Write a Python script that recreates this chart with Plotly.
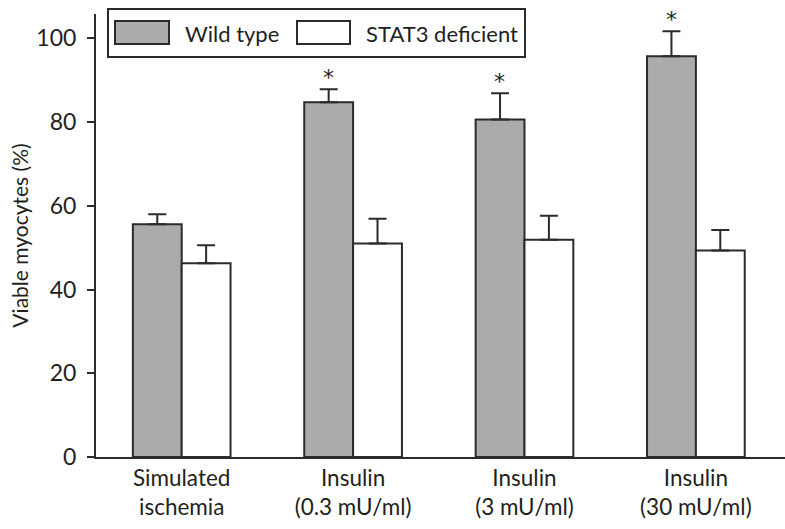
import plotly.graph_objects as go

# ---- data ----
categories = ["Simulated<br>ischemia", "Insulin<br>(0.3 mU/ml)", "Insulin<br>(3 mU/ml)", "Insulin<br>(30 mU/ml)"]
series_names = ["Wild type", "STAT3 deficient"]
wild_type = [55.6, 84.7, 80.6, 95.7]
wild_type_err = [2.4, 3.1, 6.3, 6.0]
stat3 = [46.3, 51.0, 51.9, 49.3]
stat3_err = [4.3, 5.9, 5.7, 4.9]
significant = [False, True, True, True]
y_ticks = [0, 20, 40, 60, 80, 100]

FONT = "Lato"
INK = "#231f20"
GRAY = "#ababab"
EDGE = "#2b2b2b"

W, H = 785, 529
ML, MR, MT, MB = 96, 0, 14, 72

fig = go.Figure()
fig.add_trace(go.Bar(
    name=series_names[0], x=categories, y=wild_type,
    marker=dict(color=GRAY, line=dict(color=EDGE, width=2)),
    error_y=dict(type="data", array=wild_type_err, arrayminus=[0] * 4, symmetric=False,
                 color=EDGE, thickness=2, width=9),
    showlegend=False,
))
fig.add_trace(go.Bar(
    name=series_names[1], x=categories, y=stat3,
    marker=dict(color="white", line=dict(color=EDGE, width=2)),
    error_y=dict(type="data", array=stat3_err, arrayminus=[0] * 4, symmetric=False,
                 color=EDGE, thickness=2, width=9),
    showlegend=False,
))

# significance asterisks above wild-type error bars
for cat, v, e, s in zip(categories, wild_type, wild_type_err, significant):
    if s:
        fig.add_annotation(x=cat, y=v + e, xref="x", yref="y", text="*", showarrow=False,
                           xshift=-24.5, yshift=12, yanchor="middle",
                           font=dict(family="DejaVu Sans", size=22, color=INK))

# custom legend (paper coordinates computed from pixel layout)
pw, ph = W - ML - MR, H - MT - MB
def px(x):
    return (x - ML) / pw
def py(y):
    return (H - MB - y) / ph

shapes = [
    dict(type="rect", xref="paper", yref="paper", x0=px(108), x1=px(525), y0=py(57), y1=py(9),
         line=dict(color=EDGE, width=2), fillcolor="white", layer="above"),
    dict(type="rect", xref="paper", yref="paper", x0=px(115), x1=px(169), y0=py(44), y1=py(21),
         line=dict(color=EDGE, width=2), fillcolor=GRAY, layer="above"),
    dict(type="rect", xref="paper", yref="paper", x0=px(297), x1=px(350), y0=py(44), y1=py(21),
         line=dict(color=EDGE, width=2), fillcolor="white", layer="above"),
]
for name, xpix in zip(series_names, [183, 364]):
    fig.add_annotation(xref="paper", yref="paper", x=px(xpix), y=py(33), text=name,
                       showarrow=False, xanchor="left", yanchor="middle",
                       font=dict(family=FONT, size=22, color=INK))

fig.update_layout(
    width=W, height=H,
    margin=dict(l=ML, r=MR, t=MT, b=MB, pad=0, autoexpand=False),
    plot_bgcolor="white", paper_bgcolor="white",
    barmode="group", bargap=0.43, bargroupgap=0,
    shapes=shapes,
    font=dict(family=FONT, size=22, color=INK),
)
fig.update_xaxes(
    range=[-0.5, 3.52], showline=True, linecolor=EDGE, linewidth=2,
    ticks="", showgrid=False, zeroline=False, automargin=False,
    tickfont=dict(family=FONT, size=22.5, color=INK),
)
fig.update_yaxes(
    range=[0, 105.8], tickvals=y_ticks, showline=True, linecolor=EDGE, linewidth=2,
    ticks="outside", ticklen=7, tickwidth=2, tickcolor=EDGE, showgrid=False, zeroline=False,
    ticklabelstandoff=6, automargin=False,
    tickfont=dict(family=FONT, size=23, color=INK),
    title=dict(text="Viable myocytes (%)", standoff=2, font=dict(family=FONT, size=21, color=INK)),
)

fig.write_html(
    "out.html",
    config={"displayModeBar": False},
    post_script="document.body.style.margin='0px';document.body.style.overflow='hidden';",
)
